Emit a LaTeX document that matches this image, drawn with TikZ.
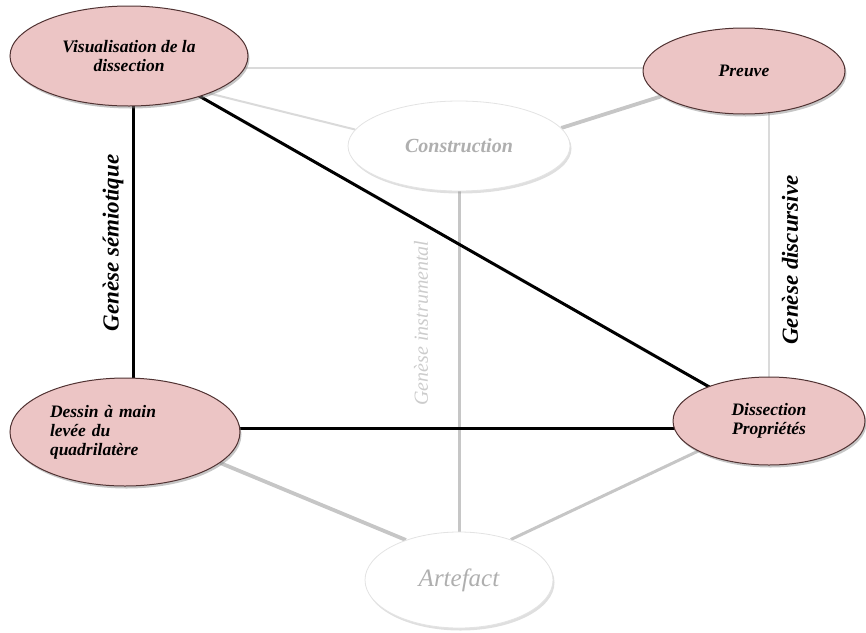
\documentclass[tikz,border=0pt]{standalone}
\usepackage{fontspec}
\setmainfont{Liberation Serif}
\usetikzlibrary{shapes.geometric,shadows,backgrounds}
\definecolor{pinkfill}{RGB}{236,197,197}
\definecolor{pinkdraw}{RGB}{80,50,50}
\definecolor{ghost}{RGB}{175,175,175}
\definecolor{lineA}{RGB}{198,198,198}
\definecolor{lineB}{RGB}{218,218,218}
\begin{document}
\begin{tikzpicture}[x=1pt,y=-1pt,
  pinknode/.style={ellipse,draw=pinkdraw,line width=1pt,fill=pinkfill,inner sep=0pt,
    font=\fontsize{17.5}{19}\selectfont\bfseries\itshape,
    drop shadow={shadow xshift=1.5pt,shadow yshift=-2.5pt,opacity=0.45}},
  ghostnode/.style={ellipse,draw=gray!22,line width=0.8pt,fill=white,inner sep=0pt,text=ghost,
    drop shadow={shadow xshift=1.5pt,shadow yshift=-2.5pt,opacity=0.25}},
  blackline/.style={line width=3pt,black},
  greythick/.style={line width=3.8pt,lineA},
  greythin/.style={line width=2pt,lineB},
  genlabel/.style={rotate=90,font=\fontsize{23}{25}\selectfont\bfseries\itshape}
]
\useasboundingbox (0,0) rectangle (866,632);
\node[pinknode,minimum width=238pt,minimum height=100pt,align=center] (V) at (129,56)
  {Visualisation de la\\dissection};
\node[pinknode,minimum width=202pt,minimum height=86pt] (P) at (744,71) {Preuve};
\node[ghostnode,minimum width=222pt,minimum height=90pt,
  font=\fontsize{20}{22}\selectfont\bfseries\itshape] (C) at (459,146) {Construction};
\node[pinknode,minimum width=230pt,minimum height=108pt,text width=150pt,align=left] (D) at (125,432)
  {Dessin à main\\levée du\\quadrilatère};
\node[pinknode,minimum width=192pt,minimum height=88pt,align=center] (S) at (769,421)
  {Dissection\\Propriétés};
\node[ghostnode,minimum width=188pt,minimum height=96pt,
  font=\fontsize{25}{27}\selectfont\itshape] (A) at (459,580) {Artefact};
\coordinate (vx) at (133,0);
\coordinate (hy) at (0,428);
\coordinate (py) at (0,68);
\coordinate (px) at (769,0);
\begin{scope}[on background layer]
  \node[rotate=90,text=lineA!90,font=\fontsize{20}{22}\selectfont\itshape] (GI) at (421,323) {Genèse instrumental};
  \draw[greythin] (V.center |- py) -- (P.center |- py);
  \draw[greythin] (V.335) -- (C.171);
  \draw[greythick] (C.10) -- (P.197);
  \draw[greythin] (P.center -| px) -- (S.center -| px);
  \draw[greythick,line width=3pt] (C.center) -- (A.center);
  \draw[greythick] (D.342) -- (A.143);
  \draw[greythick,line width=3pt] (S.203) -- (A.38);
  \draw[blackline] (V.center) -- (S.center);
  \draw[blackline] (V.center -| vx) -- (D.center -| vx);
  \draw[blackline] (D.center |- hy) -- (S.center |- hy);
\end{scope}
\node[genlabel] (GS) at (113,243) {Genèse sémiotique};
\node[genlabel] (GD) at (790,260) {Genèse discursive};
\end{tikzpicture}
\end{document}
